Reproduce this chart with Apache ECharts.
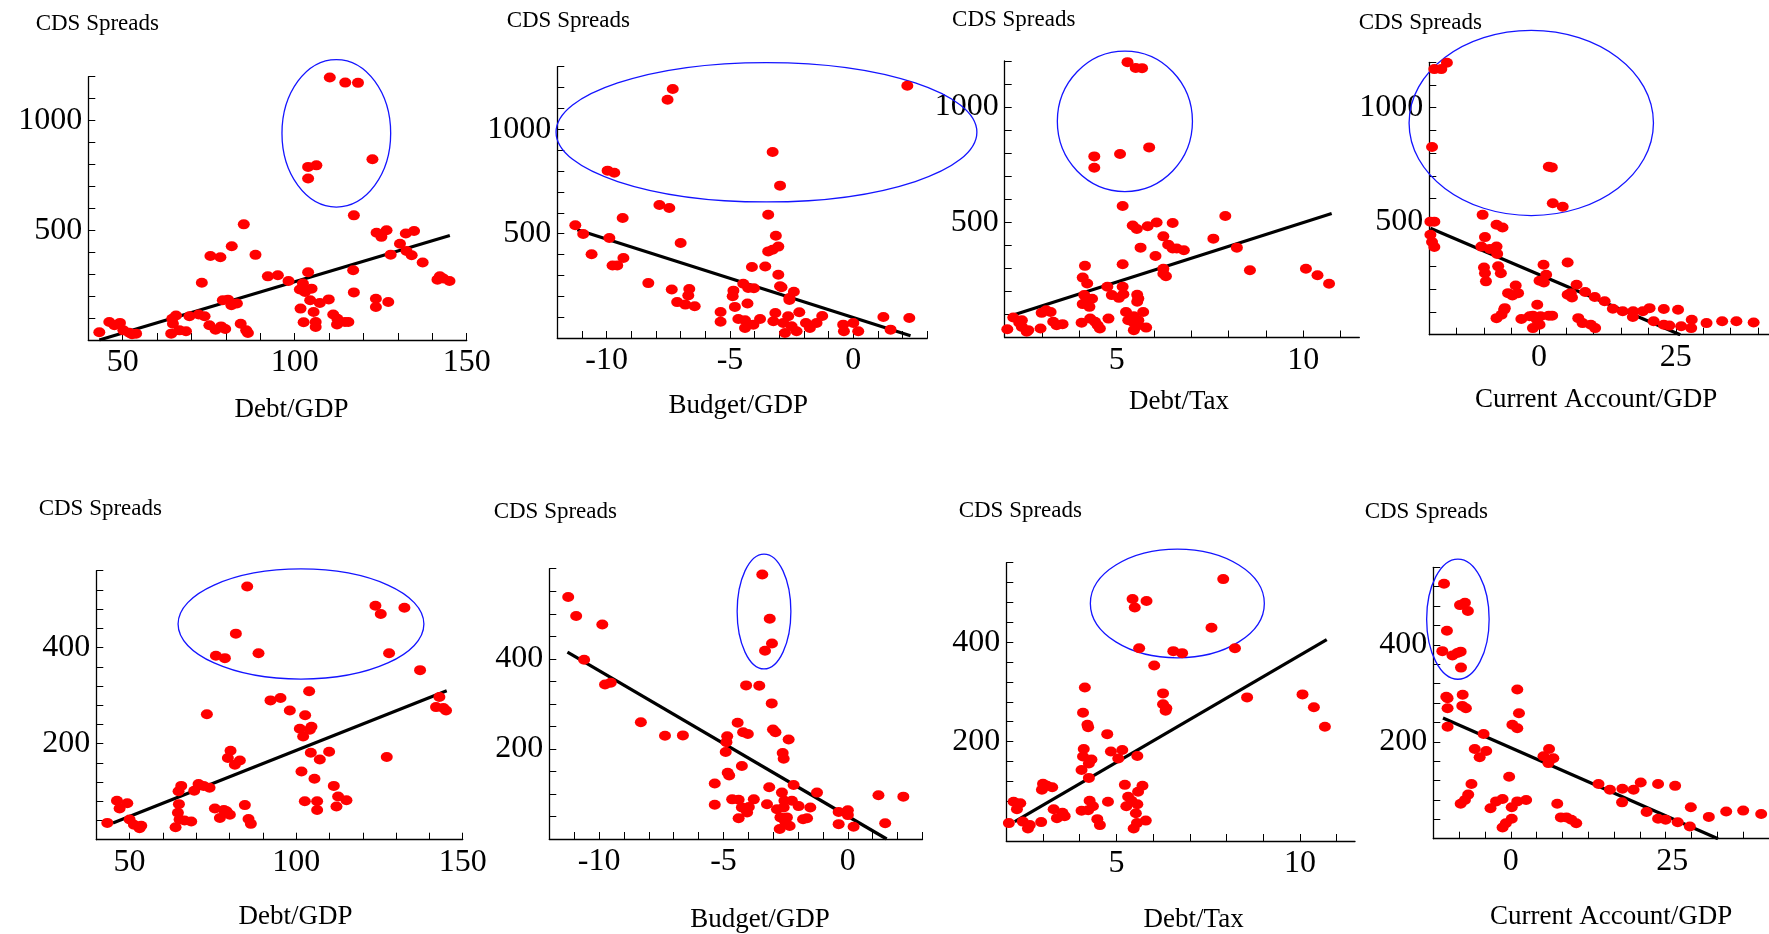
<!DOCTYPE html>
<html>
<head>
<meta charset="utf-8">
<script src="https://cdn.jsdelivr.net/npm/echarts@6/dist/echarts.min.js"></script>
<style>
  html, body { margin: 0; padding: 0; background: #fff; }
  #chart { width: 1769px; height: 934px; }
</style>
</head>
<body>
<div id="chart"></div>
<script>
// top row: full sample, bottom row: sub-sample. Points are [x, CDS spread]
const topDebtGdp = [
  [110.2,1196],[114.7,1173],[118.4,1172],[103.9,789],[106.3,796],[103.9,736],[122.6,824],
  [117.2,568],[85.2,527],[123.8,489],[125.2,470],[126.7,500],[132.3,485],[134.7,497],[130.6,439],[132.5,406],[134.0,386],[127.9,389],[137.2,353],[117.0,318],[117.2,217],[123.6,188],[123.6,150],[127.2,173],[142.2,290],[143.2,280],[145.0,269],[141.5,275],
  [81.7,427],[75.5,383],[78.4,377],[88.6,388],[73.0,261],[92.2,290],[95.1,295],[98.2,269],[103.9,309],[102.4,257],[104.9,234],[101.5,230],[103.0,219],[104.5,181],[107.3,169],[109.9,185],[101.7,143],[105.5,128],[111.2,116],[112.4,97],[112.3,71],[114.6,82],[115.6,82],[102.6,81],[106.1,82],[106.1,59],
  [79.1,181],[80.6,184],[81.6,158],[83.2,166],[84.3,74],[85.9,44],[86.4,32],[75.2,67],[77.0,47],[78.6,62],[79.8,50],[69.4,108],[72.1,116],[73.8,108],[64.4,97],[65.5,112],[64.6,74],[64.1,29],[66.5,44],[68.4,40],[43.2,35],[46.1,82],[47.6,67],[49.2,78],[50.2,44],[51.9,33],[53.9,29],[52.7,26]
];
const topBudgetGdp = [
  [-7.32,1193],[-7.53,1142],[2.19,1209],[-3.27,891],[-2.97,730],[-9.96,802],[-9.69,792],
  [-7.86,637],[-7.46,623],[-9.35,575],[-11.27,540],[-10.95,498],[-9.89,479],[-10.61,401],[-9.32,383],[-9.76,347],[-9.57,348],[-7.0,455],[-8.31,263],[-7.36,232],[-6.65,235],[-6.69,204],[-7.14,172],[-6.81,160],[-6.43,152],
  [-3.45,591],[-3.14,490],[-3.45,415],[-3.27,423],[-3.04,438],[-4.11,340],[-3.57,343],[-3.04,303],[-4.46,260],[-4.26,240],[-4.03,238],[-2.97,248],[-2.91,243],[-4.86,227],[-4.89,200],[-2.41,222],[-2.59,192],[-2.59,182],[-4.29,165],[-4.80,149],[-5.38,125],[-5.38,78],
  [-3.16,120],[-2.19,123],[-1.26,105],[1.22,101],[2.27,96],[-4.66,91],[-4.39,85],[-4.05,64],[-3.78,91],[-4.39,48],[-3.24,80],[-2.84,72],[-2.64,104],[-2.5,56],[-2.77,24],[-2.3,32],[-1.92,72],[-1.76,48],[-1.49,72],[-0.41,64],[-0.38,32],[0,72],[0.2,32],[1.51,40]
];
const topDebtTax = [
  [5.29,1195],[5.51,1170],[5.68,1169],[4.40,786],[4.40,737],[5.09,796],[5.87,825],
  [5.16,571],[5.43,486],[5.54,471],[5.83,483],[6.07,499],[6.5,497],[7.91,527],[6.25,439],[6.38,403],[6.5,386],[6.61,386],[6.8,379],[7.59,429],[5.64,390],[6.04,354],[8.22,390],[8.57,292],[10.07,298],[10.38,270],[10.69,233],
  [5.16,318],[6.25,298],[6.32,266],[6.25,277],[4.15,311],[4.09,260],[4.21,234],[4.75,220],[5.16,220],[4.13,184],[4.34,168],[4.09,145],[4.27,133],[4.2,158],[4.87,184],[5.06,172],[5.18,188],[5.55,185],[5.55,155],[5.58,169],
  [5.25,111],[5.31,75],[5.46,92],[5.58,75],[5.71,111],[5.46,64],[5.58,53],[5.79,43],[5.46,32],[4.78,82],[4.06,64],[4.29,82],[4.42,68],[4.55,39],[4.49,53],[2.99,107],[3.23,111],[3.11,118],[3.3,68],[3.39,53],[3.55,58],[2.96,39],[2.23,87],[2.46,75],[2.39,64],[2.46,46],[2.63,32],[2.07,36],[2.59,25]
];
const topCurrentAccount = [
  [-19.08,1170],[-17.81,1170],[-16.79,1198],[-19.5,827],[1.81,740],[2.36,737],[2.54,579],[4.35,564],
  [-19.8,498],[-19.08,498],[-19.8,440],[-19.5,408],[-19.08,386],[-10.27,528],[-7.73,484],[-6.64,472],[-9.84,430],[-10.5,388],[-8.94,378],[-7.73,388],[-7.61,356],[-10.02,296],[-9.84,271],[-9.66,235],[-7.43,301],[-6.94,271],[0.85,308],[5.25,318],[1.33,264],[0.12,238],[0.91,230],[6.88,220],
  [-4.23,217],[-5.62,183],[-4.83,173],[-3.8,183],[5.25,176],[6.04,164],[5.8,183],[8.45,188],[10.2,166],[12.0,147],[13.5,114],[15.3,103],[17.2,103],[18.96,103],[20.2,117],[17.15,78],[22.8,113],[25.4,110],[20.95,59],[22.8,44],[23.8,40],[25.97,37],[27.9,66],[27.8,29],[30.6,51],[33.45,59],[36.05,59],[39.2,54],
  [-6.34,110],[-6.82,88],[-7.73,73],[-6.22,117],[-0.3,132],[-3.2,69],[-1.69,81],[-1.09,84],[0.3,81],[1.81,84],[2.42,84],[-1.09,29],[0.12,44],[-0.36,66],[7.19,73],[7.97,51],[9.48,44],[10.27,29]
];
const subDebtGdp = [
  [85.3,527],[81.9,429],[75.9,383],[78.6,378],[88.7,388],[123.8,487],[125.4,470],[132.5,483],[127.9,388],
  [137.2,353],[103.9,309],[92.3,290],[95.3,295],[98.1,269],[102.7,259],[73.2,261],[101.1,231],[104.6,235],[102.1,215],[104.1,229],[104.4,181],[109.9,183],[107.1,167],[127.2,172],[80.3,185],[79.5,170],[81.6,156],[83.1,165],[101.6,142],[105.5,127],[111.3,112],[112.6,90],[115.1,82],[112.1,69],[102.6,80],[106.3,80],[106.3,62],[143,297],[142,276],[144.2,274],[145,269],
  [65.5,112],[64.7,101],[70.7,116],[72.2,112],[74.0,108],[69.4,102],[64.8,74],[64.5,56],[65,42],[63.8,26],[66.5,40],[68.5,38],[75.6,65],[77.1,45],[79.1,59],[80.1,52],[78.3,62],[84.6,72],[85.7,43],[86.4,33],[46.2,81],[47.0,65],[49.3,76],[43.3,35],[50,42],[51.3,31],[53.5,29],[53.0,24]
];
const subBudgetGdp = [
  [-3.44,587],[-3.14,489],[-3.05,434],[-3.33,418],
  [-11.24,537],[-10.92,495],[-9.87,476],[-10.6,398],[-9.76,343],[-9.53,347],[-8.32,259],[-7.35,229],[-6.63,230],[-4.09,341],[-3.56,340],[-3.06,301],[-4.43,258],[-4.21,237],[-4.02,233],[-4.85,228],[-4.88,215],[-4.91,193],[-3.01,243],[-2.91,237],[-2.38,221],[-2.62,191],[-2.58,178],[-4.26,162],[-4.83,147],[-4.77,141],[-5.35,123],[-3.16,115],[-2.18,120],[-2.65,103],[-1.24,103],[1.23,97],[2.23,94],[-5.35,76],
  [-4.65,88],[-4.39,87],[-3.78,88],[-4.26,70],[-3.98,71],[-4.05,59],[-4.39,46],[-3.25,77],[-2.85,66],[-2.58,70],[-2.55,85],[-2.25,85],[-1.98,73],[-1.51,70],[-2.71,48],[-2.45,48],[-2.51,37],[-2.74,22],[-2.34,29],[-1.8,44],[-1.64,46],[-0.37,60],[0,64],[0,53],[-0.37,33],[0.23,27],[1.5,35]
];
const subDebtTax = [
  [5.44,487],[5.5,470],[5.82,483],[7.91,527],[7.59,429],[5.62,388],[6.55,382],[6.79,378],[8.23,388],
  [6.03,353],[6.27,297],[6.27,275],[6.36,267],[6.34,262],[8.56,289],[10.07,295],[10.38,269],[10.68,230],[4.14,309],[4.09,258],[4.21,234],[4.23,229],[4.75,215],[4.11,185],[4.09,170],[4.32,164],[4.25,156],[4.05,143],[4.25,127],[4.85,180],[5.05,166],[5.16,183],[5.57,171],
  [5.23,113],[5.71,111],[5.59,99],[5.32,89],[5.41,81],[5.27,70],[5.57,74],[5.53,56],[5.8,41],[5.47,25],[5.56,36],[4.77,79],[4.05,61],[4.27,81],[4.36,70],[4.23,62],[4.48,44],[4.55,32],[3.0,115],[3.11,111],[3.25,108],[2.97,103],[3.29,64],[3.53,57],[3.59,50],[3.38,46],[2.95,38],[2.2,79],[2.38,76],[2.29,64],[2.45,39],[2.59,25],[2.64,32],[2.07,36]
];
const subCurrentAccount = [
  [-10.34,526],[-9.89,429],[-10.6,387],[-9.03,378],[-8.27,383],[-7.76,386],[-7.71,353],[-7.86,482],[-7.1,487],[-6.64,470],
  [-9.99,293],[-9.79,290],[-9.79,269],[-9.79,231],[-7.45,297],[-7.51,274],[-6.95,269],[1.01,308],[1.27,259],[0.25,235],[1.01,228],[-4.21,216],[-5.58,185],[-4.82,168],[-3.8,181],[-0.25,128],[-6.09,113],[-6.59,91],[-7.1,80],[-7.76,72],
  [-3.14,63],[-2.28,77],[-1.27,82],[0.15,65],[1.01,77],[2.38,80],[0.15,41],[-0.76,32],[-1.27,23],[5.93,185],[5.07,170],[6.59,166],[5.83,156],[7.2,72],[7.76,44],[8.62,44],[9.38,39],[10.14,32],
  [13.59,113],[15.36,101],[17.29,103],[19.02,101],[20.13,116],[22.82,113],[25.46,109],[17.24,75],[21.04,55],[22.82,41],[23.99,39],[25.86,34],[27.89,65],[27.74,25],[30.68,45],[33.37,56],[36.0,58],[38.79,51]
];

// fitted regression lines, end points
const topDebtGdpFit = [[43.2, 0], [145.1, 476]];
const topBudgetGdpFit = [[-11.19, 519], [2.32, 11]];
const topDebtTaxFit = [[2.21, 97], [10.76, 538]];
const topCurrentAccountFit = [[-19.8, 469], [25.8, 0]];
const subDebtGdpFit = [[45, 35], [145.2, 310]];
const subBudgetGdpFit = [[-11.27, 415], [1.56, 0]];
const subDebtTaxFit = [[2.23, 39], [10.73, 405]];
const subCurrentAccountFit = [[-10.5, 249], [32.1, 0]];

// outlier rings: [center x, center y, radius x, radius y] in data units
const topDebtGdpRing = [112.1, 942, 15.8, 336];
const topBudgetGdpRing = [-3.52, 986, 8.53, 334];
const topDebtTaxRing = [5.22, 938, 1.81, 305];
const topCurrentAccountRing = [-1.39, 933, 22.3, 408];
const subDebtGdpRing = [101.45, 449, 36.9, 114.6];
const subBudgetGdpRing = [-3.37, 505, 1.08, 127.5];
const subDebtTaxRing = [6.66, 478, 2.37, 109.4];
const subCurrentAccountRing = [-8.19, 453, 4.84, 124];

// axis ticks and labels
const debtGdpTicks = [40, 50, 60, 70, 80, 90, 100, 110, 120, 130, 140, 150];
const debtGdpLabels = [50, 100, 150];
const budgetGdpTicks = [-12, -11, -10, -9, -8, -7, -6, -5, -4, -3, -2, -1, 0, 1, 2, 3];
const budgetGdpLabels = [-10, -5, 0];
const debtTaxTicks = [2, 3, 4, 5, 6, 7, 8, 9, 10, 11];
const debtTaxLabels = [5, 10];
const topCurrentTicks = [-20, -15, -10, -5, 0, 5, 10, 15, 20, 25, 30, 35, 40];
const subCurrentTicks = [-12, -8, -4, 0, 4, 8, 12, 16, 20, 24, 28, 32, 36];
const currentLabels = [0, 25];
const topSpreadTicks = [0, 100, 200, 300, 400, 500, 600, 700, 800, 900, 1000, 1100, 1200];
const topSpreadTicks13 = [0, 100, 200, 300, 400, 500, 600, 700, 800, 900, 1000, 1100, 1200, 1300];
const topSpreadLabels = [500, 1000];
const subSpreadTicks = [0, 40, 80, 120, 160, 200, 240, 280, 320, 360, 400, 440, 480, 520, 560];
const subSpreadTicks50 = [0, 50, 100, 150, 200, 250, 300, 350, 400, 450, 500, 550, 600];
const subSpreadLabels = [200, 400];

const panels = [
  { pts: topDebtGdp, fit: topDebtGdpFit, ring: topDebtGdpRing, xName: 'Debt/GDP', xMin: 40, xMax: 150, xTicks: debtGdpTicks, xLabels: debtGdpLabels, yMax: 1200, yTicks: topSpreadTicks, yLabels: topSpreadLabels },
  { pts: topBudgetGdp, fit: topBudgetGdpFit, ring: topBudgetGdpRing, xName: 'Budget/GDP', xMin: -12, xMax: 3, xTicks: budgetGdpTicks, xLabels: budgetGdpLabels, yMax: 1300, yTicks: topSpreadTicks13, yLabels: topSpreadLabels },
  { pts: topDebtTax, fit: topDebtTaxFit, ring: topDebtTaxRing, xName: 'Debt/Tax', xMin: 2, xMax: 11.5, xTicks: debtTaxTicks, xLabels: debtTaxLabels, yMax: 1200, yTicks: topSpreadTicks, yLabels: topSpreadLabels },
  { pts: topCurrentAccount, fit: topCurrentAccountFit, ring: topCurrentAccountRing, xName: 'Current Account/GDP', xMin: -20, xMax: 42, xTicks: topCurrentTicks, xLabels: currentLabels, yMax: 1200, yTicks: topSpreadTicks, yLabels: topSpreadLabels },
  { pts: subDebtGdp, fit: subDebtGdpFit, ring: subDebtGdpRing, xName: 'Debt/GDP', xMin: 40, xMax: 150, xTicks: debtGdpTicks, xLabels: debtGdpLabels, yMax: 560, yTicks: subSpreadTicks, yLabels: subSpreadLabels },
  { pts: subBudgetGdp, fit: subBudgetGdpFit, ring: subBudgetGdpRing, xName: 'Budget/GDP', xMin: -12, xMax: 3, xTicks: budgetGdpTicks, xLabels: budgetGdpLabels, yMax: 600, yTicks: subSpreadTicks50, yLabels: subSpreadLabels },
  { pts: subDebtTax, fit: subDebtTaxFit, ring: subDebtTaxRing, xName: 'Debt/Tax', xMin: 2, xMax: 11.5, xTicks: debtTaxTicks, xLabels: debtTaxLabels, yMax: 560, yTicks: subSpreadTicks, yLabels: subSpreadLabels },
  { pts: subCurrentAccount, fit: subCurrentAccountFit, ring: subCurrentAccountRing, xName: 'Current Account/GDP', xMin: -12, xMax: 40, xTicks: subCurrentTicks, xLabels: currentLabels, yMax: 560, yTicks: subSpreadTicks, yLabels: subSpreadLabels },
];

// plot boxes in pixels, plus axis-title offsets
const layout = [
  { left: 88.3, top: 76.7, width: 378.4, height: 263.3, xGap: 56, xShift: 14, yGap: 41, yShift: 9 },
  { left: 557.3, top: 66.7, width: 370, height: 271.3, xGap: 54, xShift: -4, yGap: 34, yShift: 11 },
  { left: 1004.7, top: 61, width: 354.6, height: 276.5, xGap: 51, xShift: -3, yGap: 30, yShift: 9 },
  { left: 1429.3, top: 62.3, width: 341.9, height: 272.4, xGap: 52, xShift: -3, yGap: 28, yShift: -9 },
  { left: 96.3, top: 570.7, width: 366.4, height: 269, xGap: 64, xShift: 16, yGap: 50, yShift: 4 },
  { left: 549.3, top: 568.7, width: 373.2, height: 271.3, xGap: 67, xShift: 24, yGap: 45, yShift: 6 },
  { left: 1006.3, top: 562.7, width: 348.7, height: 278.3, xGap: 65, xShift: 13, yGap: 40, yShift: 14 },
  { left: 1433.3, top: 567.3, width: 341.3, height: 271.4, xGap: 65, xShift: 10, yGap: 44, yShift: -7 },
];

const serif = 'Liberation Serif';
const shiftPad = (dx) => (dx >= 0 ? [0, 0, 0, 2 * dx] : [0, -2 * dx, 0, 0]);
const plainNumber = (v) => String(v);

const chart = echarts.init(document.getElementById('chart'));

const grid = layout.map((l) => ({ left: l.left, top: l.top, width: l.width, height: l.height }));

const xAxis = panels.map((p, i) => ({
  type: 'value',
  gridIndex: i,
  min: p.xMin,
  max: p.xMax,
  name: p.xName,
  nameLocation: 'middle',
  nameGap: layout[i].xGap,
  nameTextStyle: { fontFamily: serif, fontSize: 27, color: '#000', padding: shiftPad(layout[i].xShift) },
  axisLine: { onZero: false, lineStyle: { color: '#000', width: 1.3 } },
  axisTick: { inside: true, length: 7, customValues: p.xTicks, lineStyle: { color: '#000', width: 1 } },
  axisLabel: { customValues: p.xLabels, formatter: plainNumber, fontFamily: serif, fontSize: 32, color: '#000', margin: 7 },
  splitLine: { show: false },
}));

const yAxis = panels.map((p, i) => ({
  type: 'value',
  gridIndex: i,
  min: 0,
  max: p.yMax,
  name: 'CDS Spreads',
  nameLocation: 'end',
  nameGap: layout[i].yGap,
  nameTextStyle: { fontFamily: serif, fontSize: 23, color: '#000', align: 'center', padding: shiftPad(layout[i].yShift) },
  axisLine: { onZero: false, lineStyle: { color: '#000', width: 1.3 } },
  axisTick: { inside: true, length: 7, customValues: p.yTicks, lineStyle: { color: '#000', width: 1 } },
  axisLabel: { customValues: p.yLabels, formatter: plainNumber, fontFamily: serif, fontSize: 32, color: '#000', margin: 6 },
  splitLine: { show: false },
}));

function renderRing(params, api) {
  const c = api.coord([api.value(0), api.value(1)]);
  const s = api.size([api.value(2), api.value(3)]);
  return {
    type: 'ellipse',
    shape: { cx: c[0], cy: c[1], rx: s[0], ry: s[1] },
    style: { fill: 'none', stroke: '#1414ff', lineWidth: 1.3 },
  };
}

const series = [];
panels.forEach((p, i) => {
  series.push({
    type: 'custom',
    xAxisIndex: i,
    yAxisIndex: i,
    data: [p.ring],
    encode: { x: 0, y: 1 },
    renderItem: renderRing,
    silent: true,
    z: 1,
  });
  series.push({
    type: 'line',
    xAxisIndex: i,
    yAxisIndex: i,
    data: p.fit,
    symbol: 'none',
    lineStyle: { color: '#000', width: 3.2 },
    silent: true,
    z: 2,
  });
  series.push({
    type: 'scatter',
    xAxisIndex: i,
    yAxisIndex: i,
    data: p.pts,
    symbol: 'circle',
    symbolSize: [12, 10],
    itemStyle: { color: '#ff0000', opacity: 1 },
    z: 3,
  });
});

chart.setOption({
  animation: false,
  backgroundColor: '#fff',
  grid,
  xAxis,
  yAxis,
  series,
});
</script>
</body>
</html>
